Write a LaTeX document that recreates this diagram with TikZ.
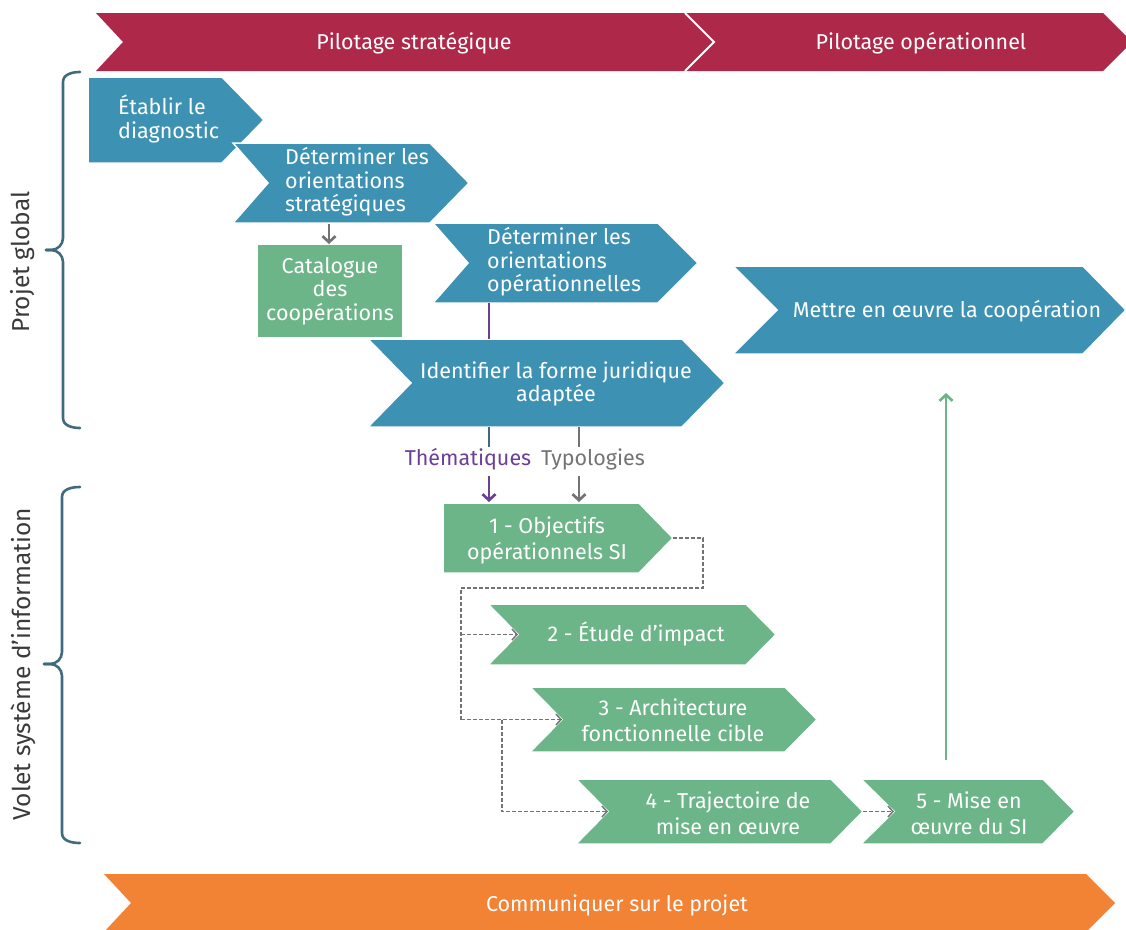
\documentclass[tikz,border=0pt]{standalone}
\usepackage{fontspec}
\setmainfont{Fira Sans}
\usetikzlibrary{arrows.meta}
\definecolor{cred}{HTML}{AE2949}
\definecolor{cblue}{HTML}{3D92B4}
\definecolor{cgreen}{HTML}{6CB588}
\definecolor{corange}{HTML}{F28234}
\definecolor{cbrace}{HTML}{3F6B7D}
\definecolor{cpurple}{HTML}{6C3E98}
\definecolor{cgray}{HTML}{737376}
\definecolor{ctext}{HTML}{3A3A3A}
\tikzset{
  shp/.style={draw=white, line width=1.5pt},
  lbl/.style={text=white, font=\fontsize{21.5}{23.5}\selectfont, inner sep=0pt},
  glbl/.style={lbl, font=\fontsize{21.5}{26}\selectfont},
  side/.style={text=ctext, font=\fontsize{24.5}{27}\selectfont, inner sep=0pt, rotate=90},
  arr/.style={line width=2.7pt, -{Straight Barb[length=6pt,width=13pt]}},
  dln/.style={cgray, line width=1.5pt, dash pattern=on 4pt off 2pt},
  darr/.style={dln, -{Straight Barb[length=5pt,width=11pt]}},
  bracestyle/.style={cbrace, line width=2.6pt, line cap=round},
}
\begin{document}
\begin{tikzpicture}[x=1pt,y=-1pt]
\useasboundingbox (0,0) rectangle (1126,929);

% top banner
\fill[cred] (96,13) -- (1103,13) -- (1132,42) -- (1103,71) -- (96,71) -- (123,42) -- cycle;
\draw[white, line width=2pt] (685,13) -- (714,42) -- (685,71);
\node[lbl] (ps) at (414,43) {Pilotage stratégique};
\node[lbl] (po) at (921,43) {Pilotage opérationnel};

% bottom banner
\fill[corange] (104,874) -- (1086,874) -- (1115,903) -- (1086,932) -- (104,932) -- (131,903) -- cycle;
\node[lbl] (com) at (617,905) {Communiquer sur le projet};

% braces
\draw[bracestyle] (80,72) to[out=180,in=90] (63,82) -- (63,238) to[out=-90,in=0] (51,250) -- (46,250);
\draw[bracestyle] (46,250) -- (51,250) to[out=0,in=90] (63,262) -- (63,418) to[out=-90,in=180] (80,428);
\node[side] (pg) at (23,262) {Projet global};
\draw[bracestyle] (80,487) to[out=180,in=90] (62,497) -- (62,652) to[out=-90,in=0] (50,664) -- (44,664);
\draw[bracestyle] (44,664) -- (50,664) to[out=0,in=90] (62,676) -- (62,833) to[out=-90,in=180] (80,843);
\node[side] (vs) at (23,664) {Volet système d’information};

% blue boxes
\filldraw[shp, fill=cblue] (88,77) -- (222,77) -- (264,120) -- (222,163) -- (88,163) -- cycle;
\node[lbl, anchor=west, align=left] (t1) at (118,119) {Établir le\\diagnostic};
\filldraw[shp, fill=cblue] (233,143) -- (430,143) -- (469,183) -- (430,223) -- (233,223) -- (268,183) -- cycle;
\node[lbl, anchor=west, align=left] (t2) at (285,182) {Déterminer les\\orientations\\stratégiques};
\filldraw[shp, fill=cblue] (433,223) -- (658,223) -- (698,263) -- (658,303) -- (433,303) -- (468,263) -- cycle;
\node[lbl, anchor=west, align=left] (t3) at (487,262) {Déterminer les\\orientations\\opérationnelles};
\filldraw[shp, fill=cgreen] (257,244) rectangle (403,338);
\node[lbl, align=center] (tcat) at (330,291) {Catalogue\\des\\coopérations};
\filldraw[shp, fill=cblue] (368,339) -- (682,339) -- (725,383) -- (682,427) -- (368,427) -- (411,383) -- cycle;
\node[lbl, align=center] (t4) at (556,384) {Identifier la forme juridique\\adaptée};
\filldraw[shp, fill=cblue] (733,266) -- (1083,266) -- (1126,310) -- (1083,354) -- (733,354) -- (777,310) -- cycle;
\node[lbl] (t5) at (947,311) {Mettre en œuvre la coopération};

% green boxes
\filldraw[shp, fill=cgreen] (443,503) -- (639,503) -- (673,538) -- (639,573) -- (443,573) -- cycle;
\node[glbl, align=center] (tg1) at (547,540) {1 - Objectifs\\opérationnels SI};
\filldraw[shp, fill=cgreen] (488,604) -- (746,604) -- (776,634.5) -- (746,665) -- (488,665) -- (518,634.5) -- cycle;
\node[lbl] (tg2) at (636,634) {2 - Étude d’impact};
\filldraw[shp, fill=cgreen] (530,687) -- (785,687) -- (817,719.5) -- (785,752) -- (530,752) -- (562,719.5) -- cycle;
\node[glbl, align=center] (tg3) at (673,720) {3 - Architecture\\fonctionnelle cible};
\filldraw[shp, fill=cgreen] (576,779) -- (831,779) -- (863,811.5) -- (831,844) -- (576,844) -- (608,811.5) -- cycle;
\node[glbl, align=center] (tg4) at (728,813) {4 - Trajectoire de\\mise en œuvre};
\filldraw[shp, fill=cgreen] (861,779) -- (1043,779) -- (1075,811.5) -- (1043,844) -- (861,844) -- (894,811.5) -- cycle;
\node[glbl, align=center] (tg5) at (969,813) {5 - Mise en\\œuvre du SI};

% labels
\node[lbl, text=cpurple] (th) at (468,459) {Thématiques};
\node[lbl, text=cgray] (ty) at (593,459) {Typologies};

% anchor coordinates
\coordinate (b2s) at (329,224);
\coordinate (catn) at (329,244);
\coordinate (b3s) at (489,303);
\coordinate (b4n) at (489,339);
\coordinate (b4sa) at (489,427);
\coordinate (tha) at (489,447);
\coordinate (b4sb) at (579,427);
\coordinate (tyb) at (579,447);
\coordinate (thb) at (489,476);
\coordinate (g1na) at (489,502);
\coordinate (tyc) at (579,476);
\coordinate (g1nb) at (579,502);
\coordinate (g1e) at (673,538);
\coordinate (ja) at (703,538);
\coordinate (jb) at (703,588);
\coordinate (jc) at (461,588);
\coordinate (jd) at (461,634.5);
\coordinate (je) at (461,719.5);
\coordinate (jf) at (502,719.5);
\coordinate (jg) at (502,811.5);
\coordinate (g2w) at (518,634.5);
\coordinate (g3w) at (562,719.5);
\coordinate (g4w) at (608,811.5);
\coordinate (g4e) at (863,811.5);
\coordinate (g5w) at (894,811.5);
\coordinate (g5up) at (946,760);
\coordinate (b5s) at (946,393);

% connectors
\draw[arr, cgray] (b2s) -- (catn);
\draw[cpurple, line width=2.7pt] (b3s) -- (b4n);
\draw[cbrace, line width=2.7pt] (b4sa) -- (tha);
\draw[cgray, line width=2.7pt] (b4sb) -- (tyb);
\draw[arr, cpurple] (thb) -- (g1na);
\draw[arr, cgray] (tyc) -- (g1nb);
\draw[dln] (g1e) -- (ja) -- (jb) -- (jc) -- (jd) -- (je);
\draw[darr] (jd) -- (g2w);
\draw[darr] (je) -- (g3w);
\draw[darr] (jf) -- (jg) -- (g4w);
\draw[darr] (g4e) -- (g5w);
\draw[arr, cgreen] (g5up) -- (b5s);
\end{tikzpicture}
\end{document}
